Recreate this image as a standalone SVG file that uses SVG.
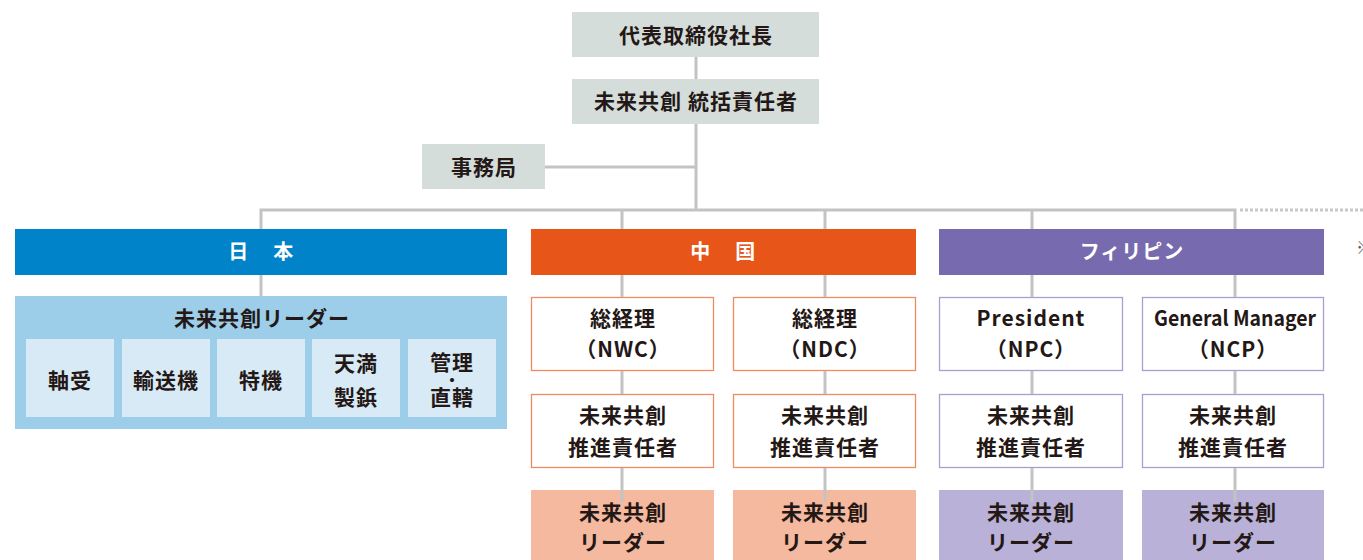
<svg xmlns="http://www.w3.org/2000/svg" width="1363" height="560" viewBox="0 0 1363 560">
<style>
text{font-family:"Noto Sans CJK JP","Noto Sans",sans-serif;font-weight:700;font-size:21px;fill:#231815;text-anchor:middle;letter-spacing:1px}
.w{fill:#ffffff;font-size:20px;letter-spacing:2.5px}
.g{fill:#d5dddb}
.cn{fill:#ffffff;stroke:#ef8a62;stroke-width:1.3}
.ph{fill:#ffffff;stroke:#a99dd2;stroke-width:1.3}
.cl{fill:#f5b9a0}
.pl{fill:#b9b1d7}
.ln{stroke:#c3c3c3;stroke-width:3;fill:none}
</style>
<g id="president"><rect class="g" x="572" y="12" width="247" height="45"/><text x="696" y="43">代表取締役社長</text></g>
<g id="general"><rect class="g" x="572" y="79" width="247" height="45"/><text x="696" y="109">未来共創 統括責任者</text></g>
<g id="office"><rect class="g" x="422" y="144" width="123" height="45"/><text x="484" y="175">事務局</text></g>
<g id="japan">
<rect x="15" y="229" width="492" height="46" fill="#0083c8"/><text class="w" x="262" y="259">日　本</text>
<rect x="15" y="296" width="492" height="133" fill="#9ccde9"/><text x="262" y="326">未来共創リーダー</text>
<rect x="26" y="339" width="88" height="78" fill="#d8eaf6"/><text x="70" y="388">軸受</text>
<rect x="122" y="339" width="88" height="78" fill="#d8eaf6"/><text x="166" y="388">輸送機</text>
<rect x="217" y="339" width="88" height="78" fill="#d8eaf6"/><text x="261" y="388">特機</text>
<rect x="312" y="339" width="88" height="78" fill="#d8eaf6"/><text x="356" y="371">天満</text><text x="356" y="405">製鋲</text>
<rect x="408" y="339" width="88" height="78" fill="#d8eaf6"/><text x="452" y="370">管理</text><text x="452" y="386" style="font-size:16px;letter-spacing:0">・</text><text x="452" y="405">直轄</text>
</g>
<g id="china">
<rect x="531" y="229" width="385" height="46" fill="#e85518"/><text class="w" x="724" y="259">中　国</text>
<rect class="cn" x="531.5" y="297.5" width="182" height="73"/><text x="623" y="326">総経理</text><text x="623" y="357">（NWC）</text>
<rect class="cn" x="733.5" y="297.5" width="182" height="73"/><text x="825" y="326">総経理</text><text x="825" y="357">（NDC）</text>
<rect class="cn" x="531.5" y="394.5" width="182" height="73"/><text x="623" y="423">未来共創</text><text x="623" y="455">推進責任者</text>
<rect class="cn" x="733.5" y="394.5" width="182" height="73"/><text x="825" y="423">未来共創</text><text x="825" y="455">推進責任者</text>
<rect class="cl" x="531" y="490" width="183" height="70"/><text x="623" y="520">未来共創</text><text x="623" y="550">リーダー</text>
<rect class="cl" x="733" y="490" width="183" height="70"/><text x="825" y="520">未来共創</text><text x="825" y="550">リーダー</text>
</g>
<g id="philippines">
<rect x="939" y="229" width="385" height="46" fill="#786aae"/><text class="w" x="1132" y="259" style="letter-spacing:1px">フィリピン</text>
<rect class="ph" x="939.5" y="297.5" width="183" height="73"/><text x="1031" y="326">President</text><text x="1031" y="357">（NPC）</text>
<rect class="ph" x="1142.5" y="297.5" width="181" height="73"/><text x="1235" y="326" style="letter-spacing:0" textLength="162" lengthAdjust="spacingAndGlyphs">General Manager</text><text x="1233" y="357">（NCP）</text>
<rect class="ph" x="939.5" y="394.5" width="183" height="73"/><text x="1031" y="423">未来共創</text><text x="1031" y="455">推進責任者</text>
<rect class="ph" x="1142.5" y="394.5" width="181" height="73"/><text x="1233" y="423">未来共創</text><text x="1233" y="455">推進責任者</text>
<rect class="pl" x="939" y="490" width="184" height="70"/><text x="1031" y="520">未来共創</text><text x="1031" y="550">リーダー</text>
<rect class="pl" x="1142" y="490" width="182" height="70"/><text x="1233" y="520">未来共創</text><text x="1233" y="550">リーダー</text>
</g>
<g id="connectors">
<path class="ln" d="M696 57V79M696 124V210M545 167H696M261 229V210H1235V229M622 210V229M825 210V229M1032 210V229"/>
<path class="ln" d="M261 275V296M622 275V297M825 275V297M1032 275V297M1235 275V297M622 371V394M825 371V394M1032 371V394M1235 371V394M622 468V502M825 468V502M1032 468V502M1235 468V502"/>
<path d="M1240 210H1363" stroke="#c8c8c8" stroke-width="3" stroke-dasharray="3 2"/>
</g>
<text x="1356" y="254" style="font-size:17px;font-weight:400;fill:#595757;letter-spacing:0;text-anchor:start">※</text>
</svg>
